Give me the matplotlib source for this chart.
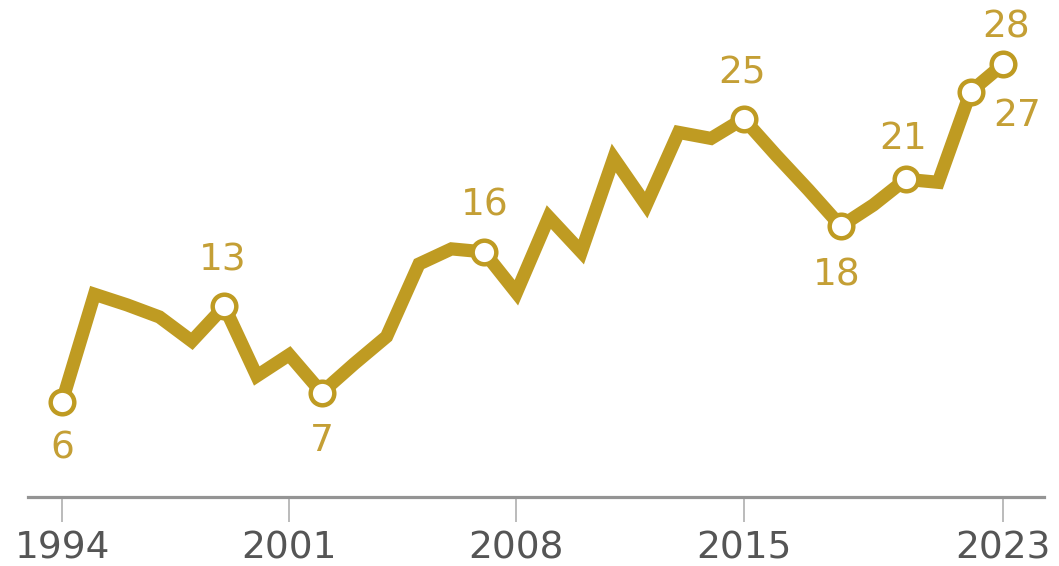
import matplotlib.pyplot as plt

# values (percent)
years = list(range(1994, 2024))
values = [6.3, 13.4, 12.7, 11.9, 10.3, 12.6, 8.0, 9.4, 6.9, 8.8,
          10.6, 15.4, 16.4, 16.2, 13.5, 18.5, 16.2, 22.4, 19.3, 24.1,
          23.7, 25.0, 22.6, 20.3, 17.9, 19.3, 21.0, 20.8, 26.8, 28.6]

label_years = [1994, 1999, 2002, 2007, 2015, 2018, 2020, 2022, 2023]
label_texts = ["6", "13", "7", "16", "25", "18", "21", "27", "28"]
# text offsets in pixels (dx, dy), positive dy = up
label_offsets = [(0, -47), (-2, 46), (0, -48), (1, 46), (-1, 45),
                 (-4, -49), (-3, 40), (47, -24), (3, 37)]

tick_years = [1994, 2001, 2008, 2015, 2023]

gold = "#BF9B22"
label_gold = "#C49F35"

fig = plt.figure(figsize=(10.59, 5.66), dpi=100)
ax = fig.add_axes([28 / 1059, 1 - 497 / 566, 1016 / 1059, 497 / 566])

ax.plot(years, values, color=gold, lw=9.5, solid_joinstyle="miter",
        solid_capstyle="butt", zorder=2)

lx = [years.index(y) for y in label_years]
ax.plot(label_years, [values[i] for i in lx], ls="none", marker="o",
        ms=17, mfc="white", mec=gold, mew=3.2, zorder=3)

for i, t, (dx, dy) in zip(lx, label_texts, label_offsets):
    ax.annotate(t, (years[i], values[i]), xytext=(dx, dy),
                textcoords="offset pixels", ha="center", va="center",
                fontsize=27, color=label_gold, family="DejaVu Sans")

ax.set_xlim(1992.95, 2024.26)
ax.set_ylim(0, 32.85)

for s in ["top", "right", "left"]:
    ax.spines[s].set_visible(False)
ax.spines["bottom"].set_color("#949494")
ax.spines["bottom"].set_linewidth(2.3)

ax.set_yticks([])
ax.set_xticks(tick_years)
ax.set_xticklabels([str(y) for y in tick_years])
ax.tick_params(axis="x", length=18, width=1.3, color="#b5b5b5", pad=6,
               labelsize=27, labelcolor="#555555")

fig.savefig("out.png", dpi=100)
